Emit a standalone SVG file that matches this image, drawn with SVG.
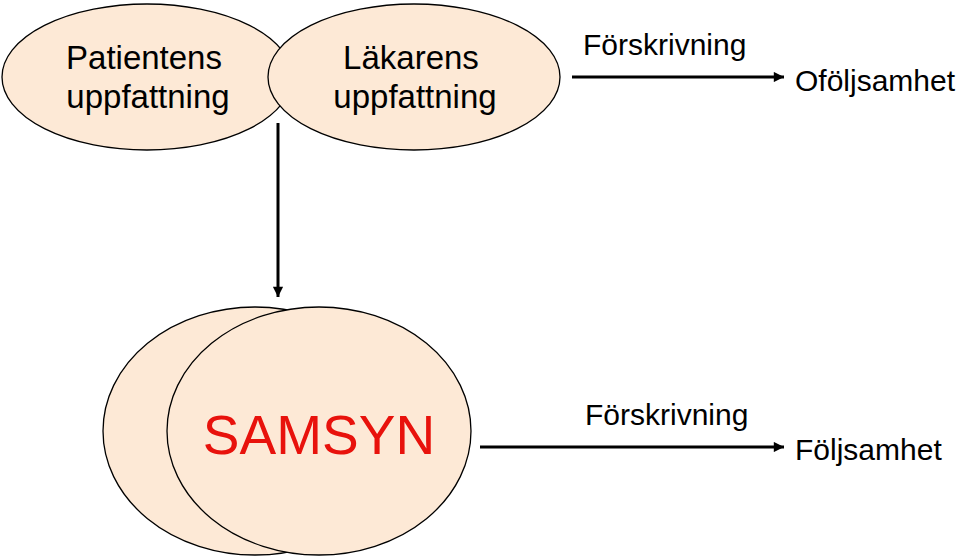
<svg xmlns="http://www.w3.org/2000/svg" width="960" height="560" viewBox="0 0 960 560">
<defs>
<style>
.n{fill:#fde9d6;stroke:#000;stroke-width:1.3}
.t{font-family:"Liberation Sans",Arial,sans-serif;fill:#000}
.c{stroke:#000;stroke-width:3;fill:none}
</style>
<marker id="ah" viewBox="0 0 10 10" refX="10" refY="5" markerWidth="4" markerHeight="3.4" orient="auto" markerUnits="strokeWidth">
<path d="M0,0 L10,5 L0,10 z" fill="#000"/>
</marker>
</defs>
<rect width="960" height="560" fill="#fff"/>
<g id="patient">
<ellipse class="n" cx="147" cy="77" rx="145" ry="73"/>
<text class="t" x="144" y="69" font-size="33" text-anchor="middle">Patientens</text>
<text class="t" x="148" y="108" font-size="33" text-anchor="middle">uppfattning</text>
</g>
<g id="lakare">
<ellipse class="n" cx="414" cy="77" rx="146" ry="73"/>
<text class="t" x="411" y="69" font-size="33" text-anchor="middle">Läkarens</text>
<text class="t" x="415" y="108" font-size="33" text-anchor="middle">uppfattning</text>
</g>
<g id="samsyn">
<ellipse class="n" cx="255" cy="431" rx="152" ry="124"/>
<ellipse class="n" cx="319" cy="431" rx="152" ry="124"/>
<text x="319" y="454" font-size="55" text-anchor="middle" font-family="Liberation Sans,Arial,sans-serif" fill="#e8120c">SAMSYN</text>
</g>
<g id="ofoljsamhet">
<text class="t" x="795" y="91" font-size="30">Oföljsamhet</text>
</g>
<g id="foljsamhet">
<text class="t" x="795" y="460" font-size="30">Följsamhet</text>
</g>
<g id="connectors">
<line class="c" x1="278" y1="123" x2="278" y2="297" marker-end="url(#ah)"/>
<line class="c" x1="572" y1="77" x2="784" y2="77" marker-end="url(#ah)"/>
<text class="t" x="583" y="55" font-size="30">Förskrivning</text>
<line class="c" x1="480" y1="447" x2="784" y2="447" marker-end="url(#ah)"/>
<text class="t" x="585" y="425" font-size="30">Förskrivning</text>
</g>
</svg>
